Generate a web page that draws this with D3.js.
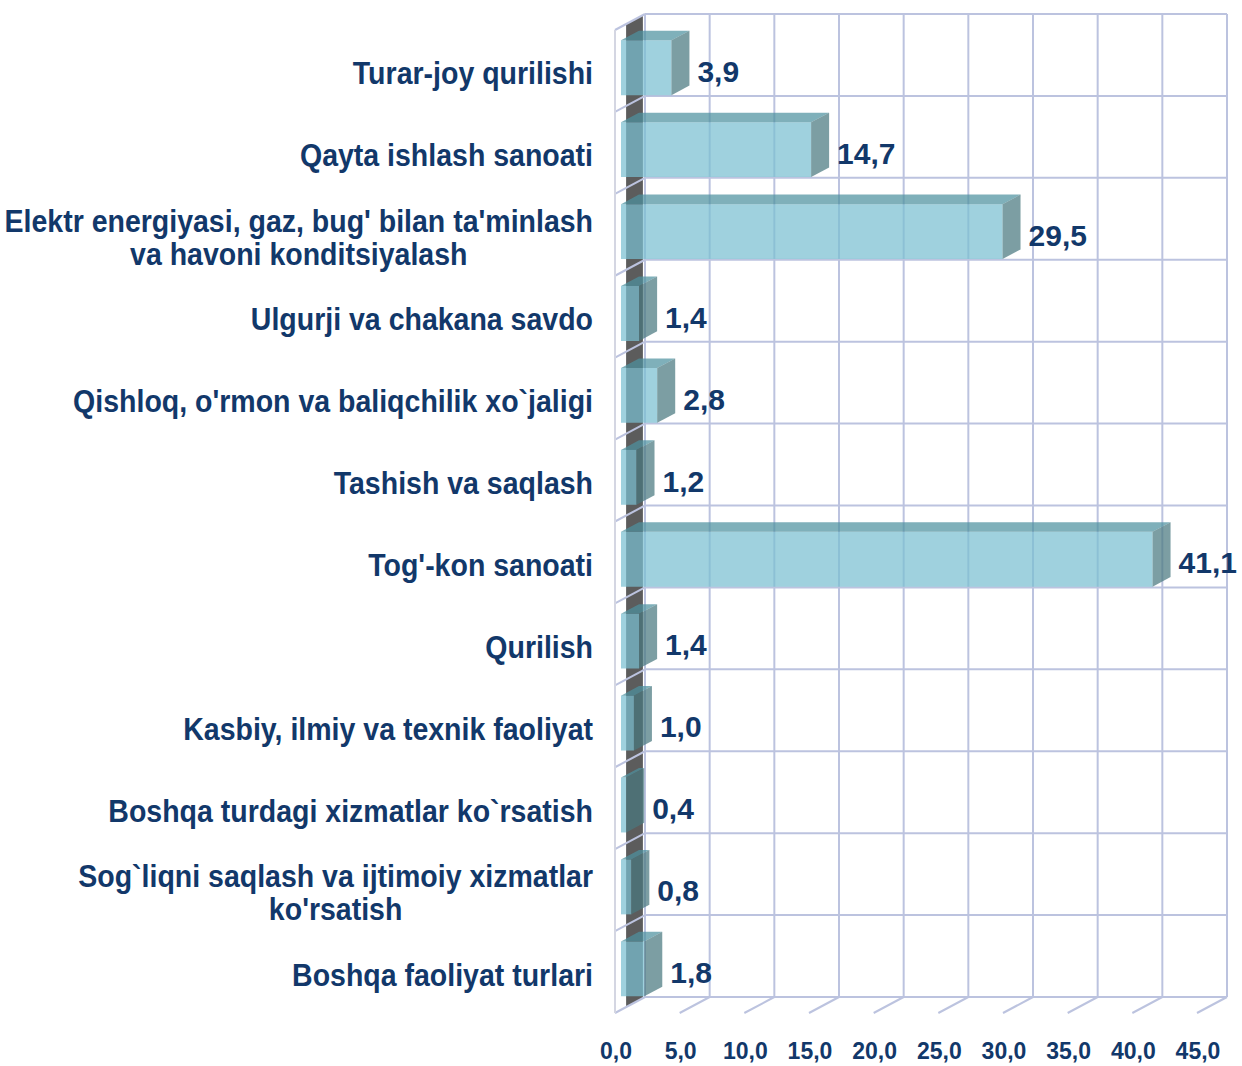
<!DOCTYPE html>
<html>
<head>
  <meta charset="utf-8" />
  <title>Bar 3D</title>
  <style>
    body { margin: 0; background: #fff; }
    text { font-family: "Liberation Sans", Arial, sans-serif; font-weight: bold; fill: #12386a; }
    .grid line { stroke: #bcc3df; stroke-width: 2px; }
  </style>
  <script src="https://cdnjs.cloudflare.com/ajax/libs/d3/7.8.5/d3.min.js"></script>
</head>
<body>
  <div id="chartArea"></div>
  <script>
    var categories = [
      "Turar-joy qurilishi",
      "Qayta ishlash sanoati",
      "Elektr energiyasi, gaz, bug' bilan ta'minlash\nva havoni konditsiyalash",
      "Ulgurji va chakana savdo",
      "Qishloq, o'rmon va baliqchilik xo`jaligi",
      "Tashish va saqlash",
      "Tog'-kon sanoati",
      "Qurilish",
      "Kasbiy, ilmiy va texnik faoliyat",
      "Boshqa turdagi xizmatlar ko`rsatish",
      "Sog`liqni saqlash va ijtimoiy xizmatlar\nko'rsatish",
      "Boshqa faoliyat turlari"
    ];
    var values = [3.9, 14.7, 29.5, 1.4, 2.8, 1.2, 41.1, 1.4, 1.0, 0.4, 0.8, 1.8];
    var ticks = [0, 5, 10, 15, 20, 25, 30, 35, 40, 45];

    var W = 1242, H = 1066;
    var depthX = 30, depthY = 16;   // back wall -> front edge offset
    var t0 = 0.2, t1 = 0.8;          // bar depth span (0 = front, 1 = back)

    var svg = d3.select('#chartArea').append('svg')
      .attr('width', W)
      .attr('height', H);

    // scales on the back wall
    var x = d3.scaleLinear().domain([0, 45]).range([645, 1227]);
    var y = d3.scaleBand().domain(d3.range(categories.length))
      .range([14, 997]).paddingInner(0.33).paddingOuter(0.165);
    var step = y.step();
    var top0 = 14, bot0 = 997;

    // project a back-wall point to depth t
    function P(px, py, t) {
      return [px - depthX * (1 - t), py + depthY * (1 - t)];
    }
    function poly(pts) { return pts.map(p => p.join(',')).join(' '); }

    var fmt = d => d3.format('.1f')(d).replace('.', ',');

    // dark floor strip
    svg.append('polygon')
      .attr('points', poly([P(x(0), top0, 0.37), P(x(0), top0, 0.93), P(x(0), bot0, 0.93), P(x(0), bot0, 0.37)]))
      .attr('fill', '#5c5c5c');

    var grid = svg.append('g').attr('class', 'grid');
    // back wall verticals
    grid.selectAll('.v').data(ticks).enter().append('line')
      .attr('x1', d => x(d)).attr('x2', d => x(d))
      .attr('y1', top0).attr('y2', bot0);
    // back wall horizontals
    var hs = d3.range(categories.length + 1).map(k => top0 + k * step);
    grid.selectAll('.h').data(hs).enter().append('line')
      .attr('x1', x(0)).attr('x2', x(45))
      .attr('y1', d => d).attr('y2', d => d);
    // side wall diagonals
    grid.selectAll('.d').data(hs).enter().append('line')
      .attr('x1', d => P(x(0), d, 0)[0]).attr('y1', d => P(x(0), d, 0)[1])
      .attr('x2', x(0)).attr('y2', d => d);
    // floor diagonals
    grid.selectAll('.f').data(ticks.slice(1)).enter().append('line')
      .attr('x1', d => P(x(d), bot0, 0)[0]).attr('y1', P(0, bot0, 0)[1])
      .attr('x2', d => x(d)).attr('y2', bot0);
    // side wall front edge
    grid.append('line')
      .attr('x1', P(x(0), top0, 0)[0]).attr('x2', P(x(0), bot0, 0)[0])
      .attr('y1', P(0, top0, 0)[1]).attr('y2', P(0, bot0, 0)[1])
      .style('stroke', '#d4d6e2');

    // bars
    var bars = svg.selectAll('.bar').data(values).enter().append('g').attr('class', 'bar');
    bars.each(function (v, i) {
      var g = d3.select(this);
      var yt = y(i), yb = y(i) + y.bandwidth();
      var fTL = P(x(0), yt, t0), fTR = P(x(v), yt, t0), fBR = P(x(v), yb, t0), fBL = P(x(0), yb, t0);
      var bTL = P(x(0), yt, t1), bTR = P(x(v), yt, t1), bBR = P(x(v), yb, t1);
      g.append('polygon').attr('points', poly([fTL, fTR, fBR, fBL]))
        .attr('fill', 'rgb(122,191,209)').attr('fill-opacity', 0.72);
      g.append('polygon').attr('points', poly([fTL, bTL, bTR, fTR]))
        .attr('fill', 'rgb(77,145,160)').attr('fill-opacity', 0.72);
      g.append('polygon').attr('points', poly([fTR, bTR, bBR, fBR]))
        .attr('fill', 'rgb(73,121,127)').attr('fill-opacity', 0.72);
    });

    // value labels
    svg.selectAll('.val').data(values).enter().append('text')
      .attr('class', 'val')
      .attr('x', d => P(x(d), 0, t1)[0] + 8)
      .attr('y', (d, i) => P(0, top0 + (i + 0.5) * step, 0)[1] + 11)
      .style('font-size', '30px')
      .text(fmt);

    // category labels
    categories.forEach(function (c, i) {
      var lines = c.split('\n');
      var cy = P(0, top0 + (i + 0.5) * step, 0)[1];
      var g = svg.append('g')
        .attr('transform', 'translate(593,' + cy + ') scale(0.92,1)');
      var t = g.append('text').style('font-size', '31px');
      var lh = 33;
      lines.forEach(function (l, k) {
        t.append('tspan').attr('x', 0)
          .attr('y', 13.5 + (k - (lines.length - 1) / 2) * lh)
          .text(l);
      });
      if (lines.length === 1) {
        t.attr('text-anchor', 'end');
      } else {
        var maxW = d3.max(t.selectAll('tspan').nodes(), n => n.getComputedTextLength());
        t.attr('text-anchor', 'middle');
        t.selectAll('tspan').attr('x', -maxW / 2);
      }
    });

    // x tick labels
    svg.selectAll('.tick').data(ticks).enter().append('text')
      .attr('x', d => P(x(d), 0, 0)[0] + 1)
      .attr('y', 1059)
      .attr('text-anchor', 'middle')
      .style('font-size', '23px')
      .text(fmt);
  </script>
</body>
</html>
